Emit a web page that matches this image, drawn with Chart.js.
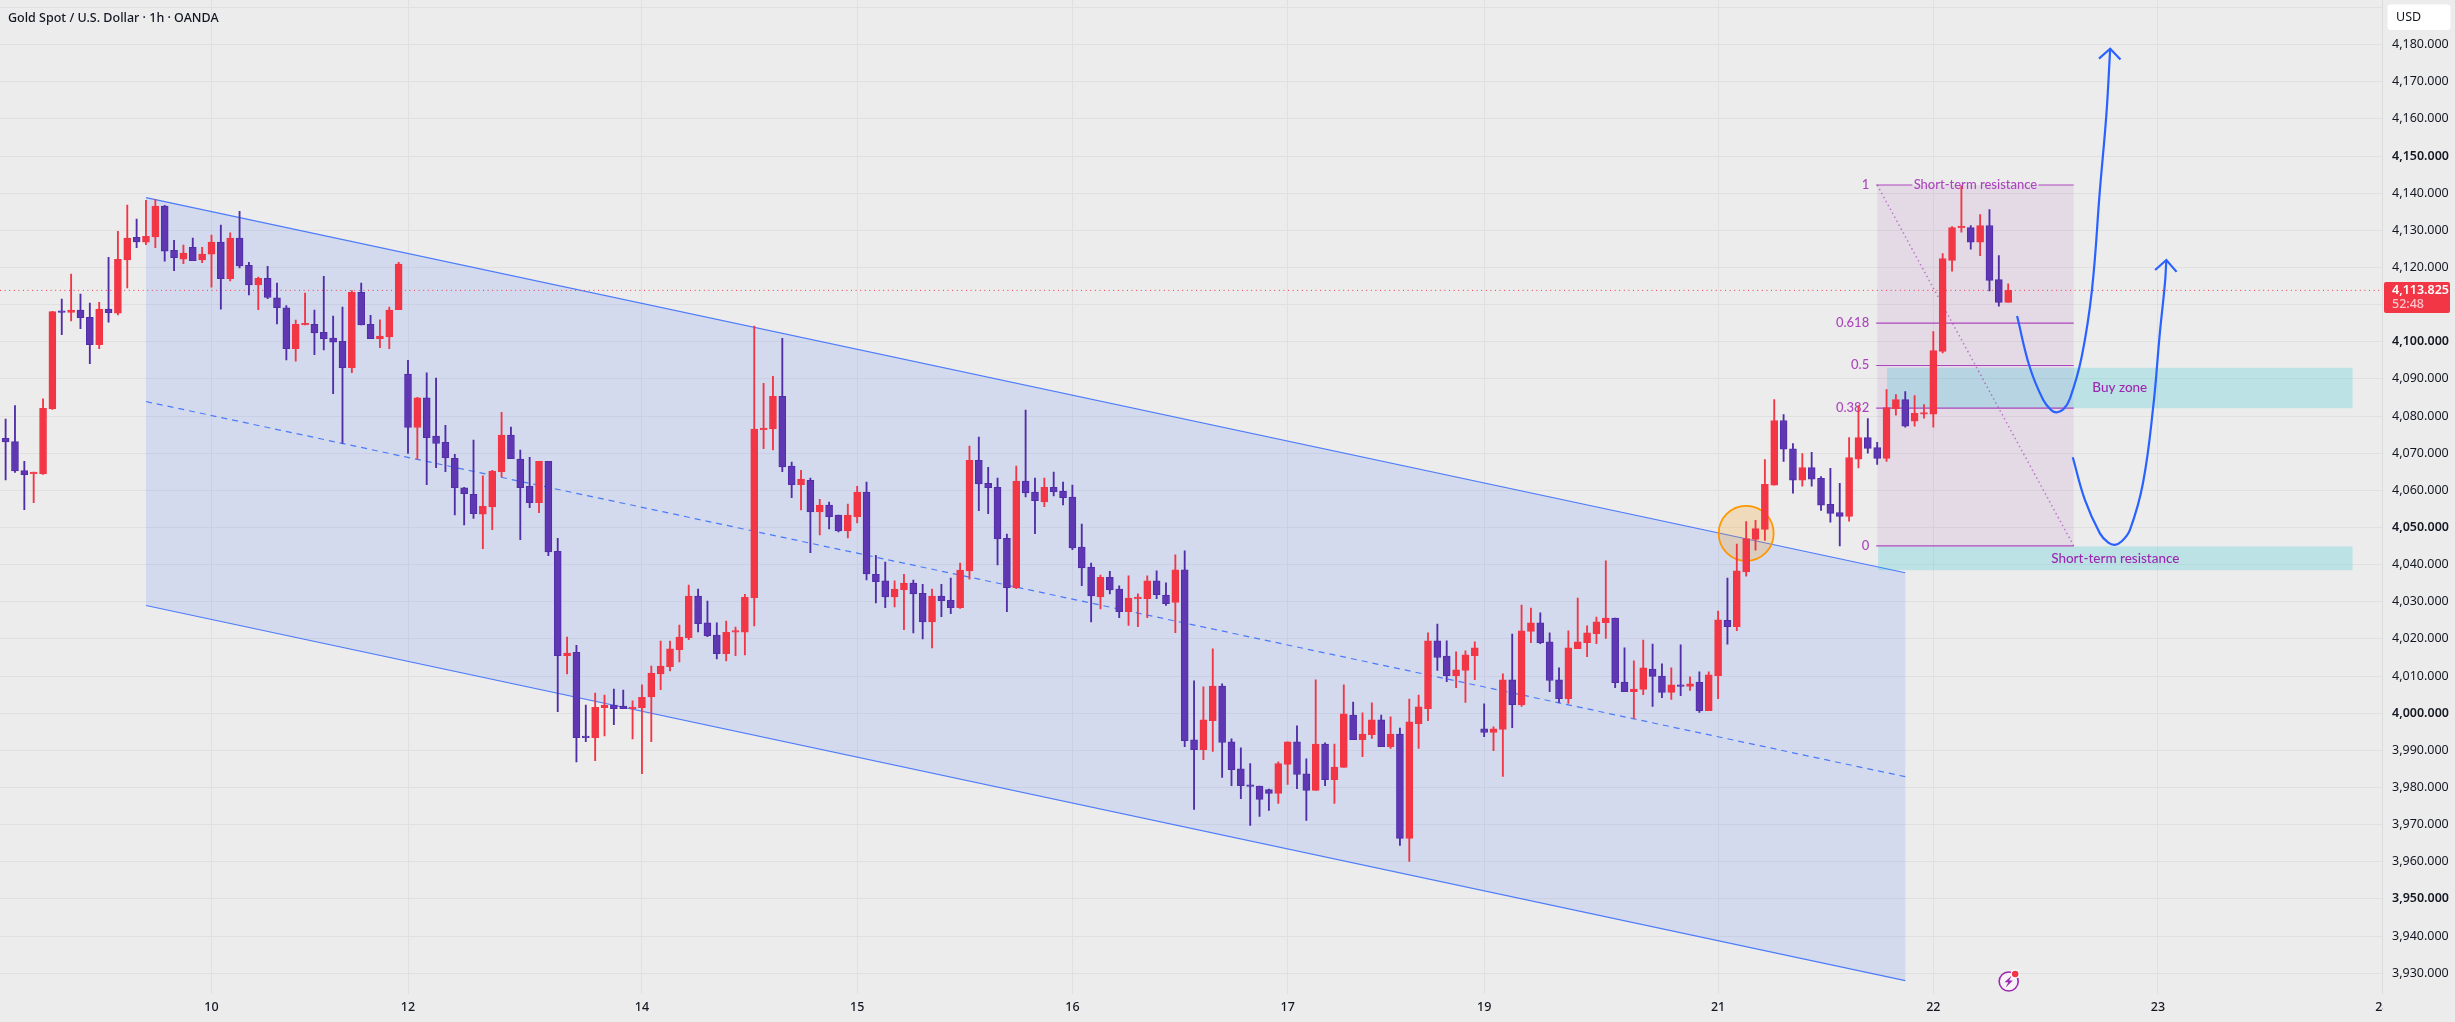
<!DOCTYPE html>
<html>
<head>
<meta charset="utf-8">
<title>Gold Spot / U.S. Dollar</title>
<style>html,body{margin:0;padding:0;background:#ececec}canvas{display:block}</style>
<script src="https://cdn.jsdelivr.net/npm/chart.js@4/dist/chart.umd.min.js"></script>
</head>
<body>
<canvas id="chart" width="2455" height="1022"></canvas>
<script>
// Hourly XAUUSD candles, oldest first
const opens = [
4074.0,4073.1,4065.3,4064.5,4064.4,4081.9,4108.2,4107.9,4108.5,4106.6,
4099.2,4108.8,4107.7,4122.0,4128.1,4126.8,4128.2,4136.5,4124.6,4122.2,
4125.4,4122.0,4123.6,4126.8,4117.0,4127.9,4120.6,4115.3,4117.1,4111.8,
4109.1,4098.1,4104.5,4104.7,4102.5,4101.0,4100.1,4093.0,4113.3,4104.7,
4100.8,4101.3,4108.6,4091.3,4076.9,4084.9,4074.6,4072.9,4068.6,4060.7,
4058.9,4053.6,4055.5,4065.0,4074.9,4068.4,4061.1,4056.7,4067.8,4043.6,
4015.5,4016.4,3993.8,3993.4,4001.5,4002.2,4001.9,4001.2,4001.5,4004.4,
4010.6,4012.5,4017.1,4020.3,4031.5,4024.3,4021.0,4016.0,4021.8,4021.8,
4031.1,4076.3,4076.5,4085.3,4066.5,4061.5,4062.7,4054.2,4056.0,4053.3,
4049.1,4052.9,4059.5,4037.4,4035.6,4031.3,4033.2,4035.0,4032.3,4024.6,
4031.5,4030.4,4028.4,4038.3,4068.1,4061.9,4060.8,4047.1,4033.8,4062.5,
4059.5,4056.9,4060.8,4059.8,4058.2,4044.7,4039.3,4031.3,4036.6,4033.4,
4027.3,4030.8,4030.8,4035.6,4031.8,4029.8,4038.6,3992.8,3990.2,3998.0,
4007.3,3992.3,3985.0,3980.7,3980.4,3979.4,3978.4,3986.2,3992.3,3983.7,
3979.2,3991.7,3982.1,3985.4,3999.5,3992.9,3994.2,3998.2,3991.0,3994.4,
3966.3,3997.2,4001.2,4019.5,4015.4,4010.1,4011.5,4015.5,3995.8,3994.8,
3995.6,4009.0,4002.2,4022.0,4024.3,4019.2,4009.0,4003.9,4017.4,4019.0,
4021.4,4024.4,4025.6,4008.4,4005.8,4006.4,4011.9,4010.0,4005.6,4007.6,
4007.2,4008.4,4000.7,4010.1,4025.0,4023.3,4038.0,4046.8,4049.5,4061.4,
4078.8,4071.2,4062.7,4066.1,4063.2,4056.2,4054.0,4053.0,4068.4,4074.2,
4071.5,4068.6,4082.0,4084.4,4078.6,4080.5,4080.5,4097.4,4121.9,4130.7,
4130.7,4126.8,4131.3,4116.7,4110.6
];
const highs = [
4079.2,4082.8,4067.8,4064.9,4084.6,4108.2,4111.5,4118.2,4112.8,4110.4,
4110.6,4122.7,4129.7,4136.8,4133.0,4138.1,4138.3,4136.7,4127.3,4126.0,
4127.9,4125.4,4128.7,4131.4,4129.3,4135.1,4121.4,4117.4,4120.3,4115.8,
4109.7,4105.8,4113.1,4108.5,4117.6,4106.9,4109.3,4113.8,4115.8,4107.1,
4105.9,4109.3,4121.4,4095.0,4085.0,4091.6,4090.2,4077.5,4069.7,4060.8,
4073.5,4063.9,4065.4,4081.0,4077.0,4070.8,4068.9,4067.8,4067.8,4047.1,
4020.5,4018.3,4002.2,4005.4,4004.9,4006.5,4006.2,4003.3,4007.6,4012.7,
4019.4,4019.4,4023.7,4034.5,4033.4,4030.2,4024.3,4024.8,4023.2,4032.0,
4104.2,4088.8,4090.7,4100.9,4067.6,4065.4,4063.3,4057.6,4056.8,4053.3,
4056.3,4061.1,4062.2,4042.5,4040.7,4035.6,4037.4,4035.8,4034.7,4033.4,
4034.7,4036.4,4040.4,4071.9,4074.3,4066.2,4063.3,4048.2,4066.5,4081.6,
4063.3,4063.3,4064.9,4062.2,4061.4,4050.9,4040.4,4037.2,4038.2,4034.3,
4037.0,4032.1,4037.0,4038.3,4035.1,4042.6,4043.7,4008.7,4007.1,4017.3,
4007.9,3993.1,3990.7,3986.4,3980.4,3979.6,3986.9,3992.3,3996.6,3987.7,
4009.0,3992.0,3991.7,4007.6,4003.0,4000.1,4002.8,3999.5,3999.0,3996.0,
4003.8,4004.9,4021.6,4024.0,4019.5,4016.5,4016.8,4019.2,4002.5,3996.3,
4010.6,4021.3,4029.1,4028.3,4027.0,4021.6,4012.2,4022.2,4031.0,4023.5,
4025.9,4041.0,4025.6,4017.6,4014.1,4019.7,4018.6,4013.3,4012.2,4018.4,
4009.8,4011.1,4011.1,4027.5,4036.4,4045.5,4051.6,4051.9,4068.3,4084.4,
4080.4,4072.6,4069.9,4070.2,4063.7,4065.9,4061.9,4074.2,4082.8,4079.3,
4072.9,4087.1,4085.8,4086.6,4085.5,4083.1,4102.7,4123.7,4131.0,4142.0,
4131.3,4134.2,4135.6,4123.2,4115.6
];
const lows = [
4062.8,4064.8,4054.8,4056.7,4064.3,4081.8,4101.9,4105.6,4103.5,4094.1,
4098.1,4105.3,4107.2,4114.5,4125.3,4126.1,4125.3,4121.7,4119.1,4121.0,
4121.8,4121.3,4114.7,4108.8,4116.4,4119.9,4112.6,4108.6,4111.6,4104.8,
4095.1,4094.8,4104.5,4096.5,4097.8,4086.0,4072.7,4091.7,4104.5,4100.8,
4098.4,4098.1,4108.6,4069.9,4068.4,4061.5,4066.1,4065.0,4053.4,4050.7,
4052.4,4044.3,4049.4,4063.6,4068.5,4046.7,4055.3,4054.0,4042.4,4000.4,
4010.6,3986.9,3992.3,3987.2,3993.9,3996.9,4001.2,3993.1,3983.7,3992.3,
4006.3,4011.4,4013.8,4019.8,4021.9,4020.6,4014.6,4014.1,4015.5,4015.7,
4023.5,4071.2,4070.9,4065.0,4058.0,4054.7,4043.2,4048.0,4049.6,4048.8,
4047.2,4051.2,4035.9,4029.7,4028.4,4028.6,4022.5,4021.6,4020.0,4017.6,
4026.0,4026.8,4028.2,4036.1,4054.5,4053.7,4039.9,4027.3,4033.5,4058.2,
4048.3,4055.6,4058.5,4056.1,4044.0,4034.3,4024.6,4028.1,4032.1,4025.7,
4023.6,4023.3,4025.7,4030.8,4029.0,4021.7,3991.0,3974.1,3987.5,3989.7,
3982.7,3980.5,3977.0,3969.8,3972.2,3973.8,3975.7,3980.8,3979.7,3971.1,
3979.2,3980.5,3975.7,3985.4,3992.9,3988.3,3993.2,3991.0,3990.5,3964.4,
3960.1,3990.5,3998.0,4011.5,4008.5,4006.9,4002.9,4009.0,3993.7,3989.9,
3983.0,3996.1,4001.8,4019.0,4018.7,4005.8,4002.9,4002.6,4017.4,4015.2,
4018.7,4020.1,4006.9,4005.8,3998.6,4005.0,4001.8,4004.2,4003.7,4004.7,
4006.1,4000.2,4000.7,4003.9,4018.6,4022.2,4036.9,4043.9,4046.5,4061.4,
4067.8,4059.2,4061.1,4061.1,4054.6,4051.4,4045.0,4051.7,4066.0,4070.0,
4067.0,4067.8,4080.2,4077.0,4077.3,4079.4,4077.0,4097.0,4119.0,4129.5,
4124.9,4123.2,4113.7,4109.6,4110.6
];
const closes = [
4073.0,4065.2,4064.2,4064.7,4082.1,4108.1,4107.9,4108.5,4106.5,4099.2,
4108.8,4107.8,4122.2,4127.9,4126.9,4128.4,4136.5,4124.4,4122.6,4123.9,
4121.8,4123.6,4126.8,4117.0,4127.9,4120.4,4115.3,4117.1,4111.9,4109.2,
4098.1,4104.7,4104.6,4102.4,4100.8,4099.9,4093.0,4113.3,4104.5,4100.8,
4101.5,4108.5,4120.9,4076.9,4084.9,4074.2,4072.6,4068.8,4060.7,4059.1,
4053.7,4055.7,4065.2,4074.9,4068.5,4060.7,4056.7,4067.8,4043.4,4015.5,
4016.2,3993.4,3993.4,4001.6,4002.2,4001.2,4001.2,4001.4,4004.3,4010.8,
4012.7,4017.3,4020.5,4031.5,4024.1,4020.8,4016.0,4021.8,4022.1,4031.2,
4076.5,4076.7,4085.3,4066.3,4061.5,4063.0,4054.2,4056.0,4052.9,4049.1,
4053.3,4059.5,4037.5,4035.4,4031.3,4033.4,4035.0,4032.1,4024.6,4031.5,
4030.3,4028.4,4038.5,4068.1,4061.7,4060.7,4046.9,4033.8,4062.5,4059.3,
4057.2,4060.8,4059.6,4058.0,4044.5,4039.1,4031.6,4036.6,4033.2,4027.3,
4031.0,4031.0,4035.6,4031.9,4029.5,4038.6,3992.6,3990.2,3998.2,4007.3,
3992.1,3984.8,3980.5,3980.3,3976.8,3978.4,3986.4,3992.3,3983.5,3979.2,
3991.7,3982.1,3985.5,3999.8,3992.9,3994.4,3998.2,3991.0,3994.4,3966.3,
3997.7,4001.7,4019.5,4015.0,4010.1,4011.7,4015.7,4017.6,3994.8,3995.8,
4009.0,4002.3,4022.2,4024.3,4019.0,4008.8,4003.9,4017.6,4019.2,4021.6,
4024.6,4025.6,4008.2,4005.8,4006.5,4012.2,4009.9,4005.6,4007.6,4007.2,
4007.9,4000.7,4010.3,4025.1,4023.3,4038.3,4047.0,4049.7,4061.6,4078.8,
4071.1,4062.7,4066.1,4063.0,4056.0,4053.8,4053.0,4068.8,4074.2,4071.3,
4068.6,4082.3,4084.4,4077.3,4080.7,4080.7,4097.6,4122.4,4130.7,4130.9,
4126.8,4131.3,4116.5,4110.6,4113.825
];

// Axis ticks
const priceTicks = [3930,3940,3950,3960,3970,3980,3990,4000,4010,4020,4030,4040,4050,4060,4070,4080,4090,4100,4110,4120,4130,4140,4150,4160,4170,4180,4190];
const unlabeledPrices = [4190];
const dayBars = [22,43,68,91,114,137,158,183,206,230,254];
const dayLabels = ['10','12','14','15','16','17','19','21','22','23','24'];

// Price channel, anchored on bar index and price
const channelBars = [15,203];
const channelTop = [4138.8,4037.8];
const channelMid = [4083.9,3982.9];
const channelBottom = [4029.0,3928.0];

// Fibonacci retracement
const fibBars = [200,221];
const fibLevels = [1,0.618,0.5,0.382,0];
const fibPrices = [4142.2,4105.0,4093.6,4082.1,4045.05];
const fibLabels = ['1','0.618','0.5','0.382','0'];

// Zones
const buyZoneBars = [201.05,250.8];
const buyZonePrices = [4093.0,4082.1];
const supportZoneBars = [200.1,250.8];
const supportZonePrices = [4044.9,4038.5];

// Breakout marker
const markerBar = 186;
const markerPrice = 4048.4;

// Projected paths
const pathOneBars = [214.95,216.3,217.75,218.6,219.2,219.9,220.6,221.85,222.95,223.8,224.5,224.9];
const pathOnePrices = [4106.9,4093.2,4084.3,4081.6,4081.0,4081.8,4084.7,4095.9,4113.9,4140.8,4161.4,4178.9];
const pathOneHeadBars = [223.7,224.9,226];
const pathOneHeadPrices = [4176.2,4178.9,4176];
const pathTwoBars = [220.9,222.2,223.8,224.7,225.4,226.1,227,228.4,229.5,230.2,230.75,230.9];
const pathTwoPrices = [4068.9,4057.4,4048.4,4045.9,4045.3,4046.2,4049.3,4061.9,4082.5,4102.2,4115.7,4122.0];
const pathTwoHeadBars = [229.7,230.9,232];
const pathTwoHeadPrices = [4119.3,4122.0,4118.8];

const lastPrice = 4113.825;
const lastPriceText = '4,113.825';
const countdownText = '52:48';
const titleText = 'Gold Spot / U.S. Dollar · 1h · OANDA';

const UP = '#f23645', DOWN = '#5f37b3', DOWN_EDGE = '#512da8';
const BLUE = '#2962ff', PURPLE = '#9c27b0', FIB = '#ab47bc';
const UI_FONT = '"Noto Sans", sans-serif';
const NOTE_FONT = 'Lato, sans-serif';
const BG = '#ececec';

const isUp = closes.map((c, i) => c >= opens[i]);
const pairs = (xs, ys) => xs.map((x, i) => ({x, y: ys[i]}));

function drawOverlays(chart) {
  const {ctx, scales: {x: sx, y: sy}, chartArea: area} = chart;
  const X = v => sx.getPixelForValue(v), Y = v => sy.getPixelForValue(v);
  const segment = (x0, y0, x1, y1, color, width, dash) => {
    ctx.save();
    ctx.strokeStyle = color; ctx.lineWidth = width; ctx.setLineDash(dash || []);
    ctx.beginPath(); ctx.moveTo(x0, y0); ctx.lineTo(x1, y1); ctx.stroke();
    ctx.restore();
  };
  const text = (s, x, y, color, font, align) => {
    ctx.save();
    ctx.fillStyle = color; ctx.font = font; ctx.textAlign = align || 'center'; ctx.textBaseline = 'middle';
    ctx.fillText(s, x, y);
    ctx.restore();
  };

  ctx.save();
  ctx.beginPath(); ctx.rect(area.left, area.top, area.width, area.height); ctx.clip();

  // channel
  ctx.fillStyle = 'rgba(41,98,255,0.125)';
  ctx.beginPath();
  ctx.moveTo(X(channelBars[0]), Y(channelTop[0]));
  ctx.lineTo(X(channelBars[1]), Y(channelTop[1]));
  ctx.lineTo(X(channelBars[1]), Y(channelBottom[1]));
  ctx.lineTo(X(channelBars[0]), Y(channelBottom[0]));
  ctx.closePath(); ctx.fill();
  const CH = 'rgba(41,98,255,0.8)';
  segment(X(channelBars[0]), Y(channelTop[0]), X(channelBars[1]), Y(channelTop[1]), CH, 1.2);
  segment(X(channelBars[0]), Y(channelBottom[0]), X(channelBars[1]), Y(channelBottom[1]), CH, 1.2);
  segment(X(channelBars[0]), Y(channelMid[0]), X(channelBars[1]), Y(channelMid[1]), CH, 1.2, [6, 5]);

  // fibonacci block
  const fx0 = X(fibBars[0]), fx1 = X(fibBars[1]);
  ctx.fillStyle = 'rgba(156,39,176,0.09)';
  ctx.fillRect(fx0, Y(fibPrices[0]), fx1 - fx0, Y(fibPrices[4]) - Y(fibPrices[0]));

  // zones
  ctx.fillStyle = 'rgba(0,188,212,0.2)';
  ctx.fillRect(X(buyZoneBars[0]), Y(buyZonePrices[0]), X(buyZoneBars[1]) - X(buyZoneBars[0]), Y(buyZonePrices[1]) - Y(buyZonePrices[0]));
  ctx.fillRect(X(supportZoneBars[0]), Y(supportZonePrices[0]), X(supportZoneBars[1]) - X(supportZoneBars[0]), Y(supportZonePrices[1]) - Y(supportZonePrices[0]));

  // fibonacci levels and labels
  const cx = (fx0 + fx1) / 2;
  fibLevels.forEach((lvl, i) => {
    const y = Y(fibPrices[i]);
    if (lvl === 1) {
      segment(fx0 - 1, y, cx - 63, y, FIB, 1.2);
      segment(cx + 63, y, fx1, y, FIB, 1.2);
      text('Short-term resistance', cx, y - 0.5, FIB, '500 13px ' + NOTE_FONT);
    } else {
      segment(fx0 - 1, y, fx1, y, FIB, 1.2);
    }
    text(fibLabels[i], fx0 - 8, y - 0.5, FIB, '500 13px ' + NOTE_FONT, 'right');
  });
  segment(fx0, Y(fibPrices[0]), fx1, Y(fibPrices[4]), 'rgba(156,39,176,0.55)', 1.5, [1.5, 3]);

  text('Buy zone', (X(buyZoneBars[0]) + X(buyZoneBars[1])) / 2, Y((buyZonePrices[0] + buyZonePrices[1]) / 2), PURPLE, '500 13.5px ' + NOTE_FONT);
  text('Short-term resistance', (X(supportZoneBars[0]) + X(supportZoneBars[1])) / 2, Y((supportZonePrices[0] + supportZonePrices[1]) / 2), PURPLE, '500 13.5px ' + NOTE_FONT);

  // breakout marker
  ctx.beginPath();
  ctx.arc(X(markerBar), Y(markerPrice), 27.5, 0, Math.PI * 2);
  ctx.fillStyle = 'rgba(255,152,0,0.2)'; ctx.fill();
  ctx.strokeStyle = '#ff9800'; ctx.lineWidth = 1.8; ctx.stroke();

  // last price line
  segment(area.left, Y(lastPrice), area.right, Y(lastPrice), UP, 1, [1, 3.6]);
  ctx.restore();

  // pane header
  text(titleText, 8, 18, '#131722', '500 12.5px ' + UI_FONT, 'left');
}

function drawChrome(chart) {
  const {ctx, scales: {x: sx, y: sy}, chartArea: area} = chart;
  // the time scale stops at the price scale, so the last day label is cut there
  ctx.fillStyle = BG;
  ctx.fillRect(area.right + 0.5, area.bottom, chart.width - area.right, chart.height - area.bottom);

  ctx.strokeStyle = '#dcdcdc'; ctx.lineWidth = 1;
  ctx.beginPath(); ctx.moveTo(area.right, 0); ctx.lineTo(area.right, area.bottom); ctx.stroke();

  // currency button
  ctx.fillStyle = '#ffffff';
  ctx.beginPath(); ctx.roundRect(2387.5, 4.5, 63, 25.5, 3); ctx.fill();
  ctx.fillStyle = '#131722'; ctx.font = '12.5px ' + UI_FONT; ctx.textAlign = 'left'; ctx.textBaseline = 'middle';
  ctx.fillText('USD', 2396, 17.5);

  // last price tag
  const py = sy.getPixelForValue(lastPrice);
  ctx.fillStyle = UP;
  ctx.beginPath(); ctx.roundRect(2384, py - 8.5, 66, 31, 2); ctx.fill();
  ctx.fillStyle = '#ffffff'; ctx.font = '600 12.5px ' + UI_FONT;
  ctx.fillText(lastPriceText, 2392, py);
  ctx.fillStyle = '#ffc4cb'; ctx.font = '500 12.5px ' + UI_FONT;
  ctx.fillText(countdownText, 2392, py + 14);

  // alert badge under the last bar
  const ix = sx.getPixelForValue(closes.length - 1) + 0.5, iy = 981.5;
  ctx.fillStyle = '#f7f3f8'; ctx.beginPath(); ctx.arc(ix, iy, 9.5, 0, Math.PI * 2); ctx.fill();
  ctx.strokeStyle = PURPLE; ctx.lineWidth = 1.6; ctx.stroke();
  ctx.fillStyle = PURPLE;
  ctx.beginPath();
  ctx.moveTo(ix + 3.2, iy - 6); ctx.lineTo(ix - 4.2, iy + 0.8); ctx.lineTo(ix - 0.4, iy + 0.8);
  ctx.lineTo(ix - 3, iy + 6); ctx.lineTo(ix + 4.2, iy - 1); ctx.lineTo(ix + 0.4, iy - 1); ctx.closePath(); ctx.fill();
  ctx.fillStyle = '#ffffff'; ctx.beginPath(); ctx.arc(ix + 6.5, iy - 7.5, 4.6, 0, Math.PI * 2); ctx.fill();
  ctx.fillStyle = UP; ctx.beginPath(); ctx.arc(ix + 6.5, iy - 7.5, 3.3, 0, Math.PI * 2); ctx.fill();
}

const pathStyle = {type: 'line', borderColor: BLUE, borderWidth: 2.2, pointRadius: 0, fill: false, clip: false};

new Chart(document.getElementById('chart'), {
  type: 'bar',
  data: {
    datasets: [
      {...pathStyle, label: 'Path one', order: 0, tension: 0.4, data: pairs(pathOneBars, pathOnePrices)},
      {...pathStyle, label: 'Path one head', order: 0, tension: 0, data: pairs(pathOneHeadBars, pathOneHeadPrices)},
      {...pathStyle, label: 'Path two', order: 0, tension: 0.4, data: pairs(pathTwoBars, pathTwoPrices)},
      {...pathStyle, label: 'Path two head', order: 0, tension: 0, data: pairs(pathTwoHeadBars, pathTwoHeadPrices)},
      {
        label: 'Bodies', order: 1, grouped: false, barThickness: 7, minBarLength: 1.6,
        backgroundColor: isUp.map(u => u ? UP : DOWN),
        borderColor: isUp.map(u => u ? UP : DOWN_EDGE),
        borderWidth: 1, borderSkipped: false,
        data: closes.map((c, i) => ({x: i, y: [opens[i], c]}))
      },
      {
        label: 'Wicks', order: 2, grouped: false, barThickness: 1.2,
        backgroundColor: isUp.map(u => u ? UP : DOWN_EDGE),
        borderWidth: 0,
        data: highs.map((h, i) => ({x: i, y: [lows[i], h]}))
      }
    ]
  },
  options: {
    responsive: false,
    animation: false,
    devicePixelRatio: 1,
    layout: {padding: 0, autoPadding: false},
    plugins: {legend: {display: false}, tooltip: {enabled: false}, title: {display: false}},
    scales: {
      x: {
        type: 'linear', position: 'bottom', offset: false,
        min: -0.6, max: 254,
        grid: {offset: false, color: '#e0e0e0', lineWidth: 1, drawTicks: false},
        border: {display: false},
        afterBuildTicks: s => { s.ticks = dayBars.map(v => ({value: v})); },
        afterFit: s => { s.height = 28; s.paddingLeft = 0; s.paddingRight = 0; },
        ticks: {
          autoSkip: false, maxRotation: 0, padding: 6, color: '#131722',
          font: {family: UI_FONT, size: 12.5, weight: '500'},
          callback: (v, i) => dayLabels[i]
        }
      },
      y: {
        type: 'linear', position: 'right',
        min: 3924.4, max: 4192,
        grid: {color: '#e0e0e0', lineWidth: 1, drawTicks: false},
        border: {display: false},
        afterBuildTicks: s => { s.ticks = priceTicks.map(v => ({value: v})); },
        afterFit: s => { s.width = 72.5; s.paddingTop = 0; s.paddingBottom = 0; },
        ticks: {
          autoSkip: false, padding: 9.5, color: '#131722', crossAlign: 'near',
          font: c => ({family: UI_FONT, size: 12.5, weight: c.tick && c.tick.value % 50 === 0 ? '600' : '400'}),
          callback: v => unlabeledPrices.includes(v) ? '' : v.toLocaleString('en-US', {minimumFractionDigits: 3, maximumFractionDigits: 3})
        }
      }
    }
  },
  plugins: [{
    id: 'chartBackdrop',
    beforeDraw(c) { c.ctx.fillStyle = BG; c.ctx.fillRect(0, 0, c.width, c.height); }
  }, {
    id: 'drawingTools',
    beforeDatasetsDraw: drawOverlays,
    afterDraw: drawChrome
  }]
});
</script>
</body>
</html>
